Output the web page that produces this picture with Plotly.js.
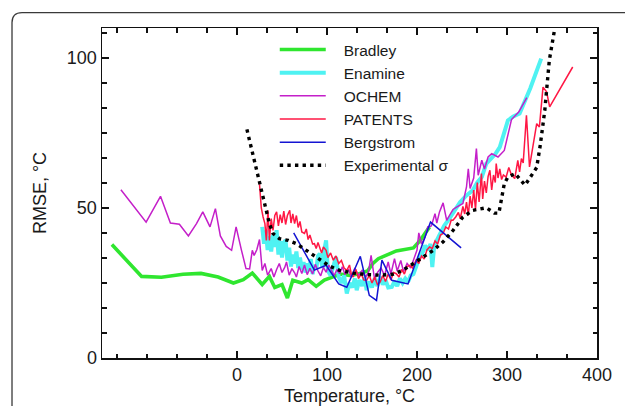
<!DOCTYPE html>
<html>
<head>
<meta charset="utf-8">
<script src="https://cdn.plot.ly/plotly-3.0.1.min.js"></script>
<style>html,body{margin:0;padding:0;background:#fff;}#chart{width:625px;height:406px;}</style>
</head>
<body>
<div id="chart"></div>
<script>
// ---- data ----
const seriesNames = ["Bradley", "Enamine", "OCHEM", "PATENTS", "Bergstrom", "Experimental σ"];

const bradleyT = [-139,-106,-84,-60,-40,-21,-4,7,17,28,36,42,50,56,62,72,79,88,97,105,115,125,135,145,151,157,177,196,203,214];
const bradleyRMSE = [37.8,27.2,26.9,27.9,28.2,27.0,25.0,26.1,28.3,24.5,27.2,23.5,24.5,20.0,25.9,25.0,26.1,23.9,26.0,27.0,28.0,27.5,28.0,29.0,31.5,33.1,35.7,36.7,39.0,43.7];

const enamineT = [28,30,32,34,36,38,40,42,44,46,48,50,52,54,56,58,60,62,64,66,68,70,72,74,76,78,80,82,84,86,88,90,92,95,97,99,101,104,107,110,113,116,119,122,125,128,131,133,136,139,142,144,147,150,153,156,159,162,165,168,172,175,178,181,184,187,190,193,196,199,203,206,209,212,215,217,219,222,226,230,236,242,248,255,262,267,272,277,282,287,292,297,301,307,314,326,338];
const enamineRMSE = [43.7,38.1,42.5,36.0,40.5,35.5,41.0,37.0,42.6,34.5,39.0,33.5,38.5,39.2,32.5,36.8,30.5,34.5,31.5,35.5,30.0,33.5,29.5,32.0,28.5,31.5,29.0,33.0,28.0,31.0,29.5,34.0,34.8,30.0,36.0,39.2,29.0,27.5,30.5,33.7,27.0,25.0,27.5,21.5,25.0,23.5,26.5,22.6,26.0,24.0,27.0,22.6,25.5,23.5,26.5,24.0,27.0,24.5,26.0,23.5,23.7,25.5,24.0,26.5,25.0,26.5,25.3,27.5,28.0,30.5,33.7,35.0,37.5,36.0,38.0,30.3,37.0,39.2,42.0,44.0,46.5,49.5,52.0,54.2,55.9,58.5,60.3,64.8,66.5,68.0,70.3,75.0,79.2,80.5,81.5,90.0,99.8];

const ochemT = [-129,-101,-85,-74,-64,-54,-45,-38,-30,-24,-18.5,-12,-6,-1,5,10,14,17,19,22,25,28,31,34,38,41,44,47,50,53,55,58,61,64,66,69,72,75,78,81,84,87,90,93,96,99,102,105,108,111,114,117,120,124,127,131,135,139,143,146,149,151,153,156,160,164,168,171,175,178,182,185,189,193,197,200,202,205,209,212,216,220,222,225,229,233,237,240,244,247,251,255,257,259,263,266,268,272,275,279,283,290,297,305,313,322];
const ochemRMSE = [56.1,45.3,53.9,45.0,44.6,40.7,44.8,48.7,43.7,49.8,40.7,37.2,35.9,43.7,35.9,29.8,29.7,35.9,34.2,36.1,39.5,29.2,31.5,27.6,29.8,27.0,29.5,31.5,28.5,30.2,32.0,27.6,29.8,28.4,27.0,30.5,28.2,31.0,27.8,29.9,28.0,31.2,29.0,27.4,30.2,28.6,31.0,29.0,27.5,29.5,28.1,30.4,27.8,29.6,27.0,30.0,27.5,29.2,27.0,28.5,34.2,30.0,26.0,28.5,30.0,27.5,32.0,28.0,33.1,29.0,32.5,28.8,31.5,30.0,33.5,36.0,41.7,38.0,40.3,43.7,44.0,48.1,45.0,48.7,51.7,45.9,48.0,49.5,50.3,50.9,51.5,57.0,63.1,56.5,60.0,69.8,60.9,65.9,63.0,67.0,68.1,67.0,69.2,79.5,82.0,86.8];

const patentsT = [25,27,29,31,32.6,34.4,36,38,40,42,44,46,48,50,52,54,56,58.6,60,62,64,66,68,70,72,75,77,79,81,84,86,88,90,92,94,96,99,101,104,107,110,113,116,119,122,125,127,129,132,135,138,141,144,147,150,153,156,159,162,165,168,171,174,177,180,183,186,189,192,195,199,202,205,208,211,214,217,220,223,226,229,232,235,238,240,243,246,248,251,253,255,257,259,261,263,265,267,269,271.6,273,275,277,279,281,283,285,287,288,290,292,294,296,299,302,305,308.6,310,312,314,316,318,321.6,325,329,333,336,340,344,347.4,373];
const patentsRMSE = [57.9,50.0,47.0,44.8,39.2,49.2,39.2,46.5,42.5,47.5,48.7,44.0,47.8,45.0,49.0,44.5,47.5,49.2,45.0,48.0,44.8,47.5,43.5,45.5,42.0,41.5,43.0,39.5,41.0,38.0,38.1,36.5,38.5,37.0,35.0,37.0,35.9,33.5,35.0,32.6,34.0,31.5,32.5,30.0,29.2,31.0,28.0,27.0,29.5,26.5,28.0,26.0,25.9,27.5,25.0,27.0,24.5,25.3,27.5,25.5,28.0,26.0,28.5,28.1,27.0,29.5,28.0,30.5,30.9,30.0,32.6,31.5,34.0,33.0,36.0,37.0,36.5,39.0,38.0,41.0,41.5,43.7,43.0,46.0,45.9,47.0,48.5,46.5,50.5,48.0,52.0,47.5,54.0,50.0,56.0,49.5,58.5,52.0,61.5,53.0,59.0,55.0,60.5,62.6,56.0,61.0,58.5,64.8,60.0,63.0,59.5,61.0,60.3,63.5,61.0,59.8,63.0,65.9,62.0,66.5,65.0,80.9,63.7,70.3,78.1,77.0,90.3,88.7,83.7,97.0];

const bergstromT = [63,86,99,113,122,137,147,155,161,172,190,215,249];
const bergstromRMSE = [41.7,29.3,30.9,24.7,23.6,33.9,20.9,19.2,32.6,25.9,24.7,45.3,36.7];

const expT = [11,24,36,40,47,57,66,77,88,103,114,129,144,159,173,184,196,207,218,229,240,251,262,277,286,291,297,301,309,320,333,337,342,347,353,356];
const expSigma = [76.2,60.3,44.8,41.5,39.8,39.2,38.1,35.9,33.7,30.6,29.2,28.3,27.8,27.6,27.9,29.2,31.5,33.7,35.9,38.7,42.5,47.0,49.2,50.1,48.3,48.3,58.1,60.3,61.5,57.6,63.5,71.0,82.6,99.2,109.2,115.0];

const xTickVals = [0, 100, 200, 300, 400];
const xTickText = ["0", "100", "200", "300", "400"];

// legend label padding (gap between sample line and text)
const pad = "\u00a0\u00a0\u00a0";

// ---- traces ----
const traces = [
  {x: bradleyT, y: bradleyRMSE, name: pad + seriesNames[0], mode: "lines", line: {color: "#2fe62f", width: 3.6}},
  {x: enamineT, y: enamineRMSE, name: pad + seriesNames[1], mode: "lines", line: {color: "#4ff2f2", width: 4}},
  {x: ochemT, y: ochemRMSE, name: pad + seriesNames[2], mode: "lines", line: {color: "#c41fc9", width: 1.5}},
  {x: patentsT, y: patentsRMSE, name: pad + seriesNames[3], mode: "lines", line: {color: "#ff1744", width: 1.5}},
  {x: bergstromT, y: bergstromRMSE, name: pad + seriesNames[4], mode: "lines", line: {color: "#1414d2", width: 1.5}},
  {x: expT, y: expSigma, name: pad + seriesNames[5], mode: "lines", line: {color: "#000000", width: 3.4, dash: "3.4px,4.2px"}}
];

const fontFam = "Liberation Sans, Arial, Helvetica, sans-serif";

const layout = {
  width: 625, height: 406,
  margin: {l: 102, r: 28, t: 28, b: 48},
  paper_bgcolor: "#ffffff", plot_bgcolor: "#ffffff",
  font: {family: fontFam, size: 18, color: "#1a1a1a"},
  showlegend: true,
  legend: {
    x: 0.349, y: 0.985, xanchor: "left", yanchor: "top",
    bgcolor: "rgba(0,0,0,0)", borderwidth: 0,
    font: {family: fontFam, size: 15.5, color: "#1a1a1a"},
    itemwidth: 46
  },
  xaxis: {
    range: [-150, 400], showgrid: false, zeroline: false,
    showline: true, linecolor: "#111", linewidth: 1.5, mirror: "allticks",
    ticks: "inside", ticklen: 7, tickwidth: 1.3, tickcolor: "#111",
    tickmode: "array", tickvals: xTickVals, ticktext: xTickText,
    tickfont: {size: 18, family: fontFam, color: "#1a1a1a"},
    minor: {tickmode: "linear", tick0: 0, dtick: 100/3, ticks: "inside", ticklen: 4.5, tickwidth: 1.3, tickcolor: "#111", showgrid: false},
    title: {text: "Temperature, °C", font: {size: 18, family: fontFam, color: "#1a1a1a"}, standoff: 7},
    automargin: false
  },
  yaxis: {
    range: [0, 110], showgrid: false, zeroline: false,
    showline: true, linecolor: "#111", linewidth: 1.5, mirror: "allticks",
    ticks: "inside", ticklen: 7, tickwidth: 1.3, tickcolor: "#111",
    tickmode: "linear", tick0: 0, dtick: 50,
    tickfont: {size: 18, family: fontFam, color: "#1a1a1a"},
    minor: {tickmode: "linear", tick0: 0, dtick: 50/6, ticks: "inside", ticklen: 4.5, tickwidth: 1.3, tickcolor: "#111", showgrid: false},
    title: {text: "RMSE, °C", font: {size: 18, family: fontFam, color: "#1a1a1a"}, standoff: 15},
    automargin: false
  },
  shapes: [{
    type: "path", xref: "paper", yref: "paper", layer: "below",
    path: "M -0.1818,-0.3 L -0.1818,1.0164 Q -0.1818,1.0467 -0.1616,1.0467 L 1.2,1.0467",
    line: {color: "#3a3a3a", width: 1.3}
  }]
};

Plotly.newPlot("chart", traces, layout, {staticPlot: true, displayModeBar: false});
</script>
</body>
</html>
